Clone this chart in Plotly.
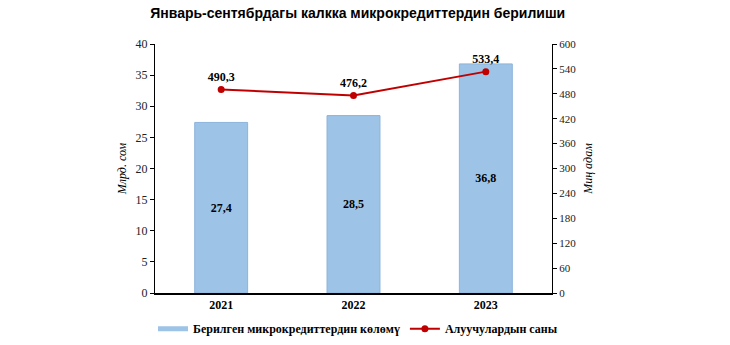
import plotly.graph_objects as go

years = ["2021", "2022", "2023"]
volume = [27.4, 28.5, 36.8]          # Млрд. сом
borrowers = [490.3, 476.2, 533.4]    # Миң адам

serif = "Liberation Serif, Times New Roman, serif"
bar_color = "#9DC3E6"
line_color = "#C00000"

fig = go.Figure()
fig.add_trace(go.Bar(
    x=years, y=volume, showlegend=False,
    marker=dict(color=bar_color, line=dict(color="#8DB4DC", width=1)),
    text=volume, texttemplate="<b>%{y:.1f}</b>", textposition="inside",
    insidetextanchor="middle",
    textfont=dict(family=serif, size=12, color="black"),
    yaxis="y",
))
# legend key for the bars: a flat wide swatch
fig.add_trace(go.Scatter(
    x=[None], y=[None], mode="lines", name="<b>Берилген микрокредиттердин көлөмү</b>",
    line=dict(color=bar_color, width=5), yaxis="y",
))
fig.add_trace(go.Scatter(
    x=years, y=borrowers, name="<b>Алуучулардын саны</b>",
    mode="lines+markers+text",
    line=dict(color=line_color, width=2),
    marker=dict(color=line_color, size=7),
    text=borrowers, texttemplate="<b>%{y:.1f}</b>", textposition="top center",
    textfont=dict(family=serif, size=12, color="black"),
    yaxis="y2",
))

fig.update_layout(
    width=730, height=345,
    margin=dict(l=155, r=178, t=44, b=52, autoexpand=False),
    paper_bgcolor="white", plot_bgcolor="white",
    separators=", ",
    bargap=0.6,
    showlegend=True,
    title=dict(text="<b>Январь-сентябрдагы калкка микрокредиттердин берилиши</b>",
               x=0.49, xanchor="center", y=0.962, yanchor="middle",
               font=dict(family="Liberation Sans, Arial, sans-serif", size=14, color="black")),
    font=dict(family=serif, size=11, color="black"),
    xaxis=dict(showline=True, linecolor="black", linewidth=1.5, ticks="",
               tickfont=dict(family=serif, size=12, color="black"),
               tickprefix="<b>", ticksuffix="</b>"),
    yaxis=dict(range=[0, 40], dtick=5, showgrid=False, zeroline=False,
               showline=True, linecolor="black", linewidth=1,
               ticks="outside", ticklen=4, tickcolor="black",
               tickfont=dict(family=serif, size=12, color="#222"),
               title=dict(text="<i>Млрд. сом</i>", standoff=6,
                          font=dict(family=serif, size=12, color="black"))),
    yaxis2=dict(range=[0, 600], dtick=60, overlaying="y", side="right",
                showgrid=False, zeroline=False,
                showline=True, linecolor="black", linewidth=1,
                ticks="outside", ticklen=4, tickcolor="black",
                tickfont=dict(family=serif, size=11, color="#222"),
                title=dict(text="<i>Миң адам</i>", standoff=8,
                           font=dict(family=serif, size=12, color="black"))),
    legend=dict(orientation="h", x=-0.005, xanchor="left", y=-0.085, yanchor="top",
                font=dict(family=serif, size=12, color="black"),
                itemwidth=30, tracegroupgap=0),
)

fig.write_html("out.html")
